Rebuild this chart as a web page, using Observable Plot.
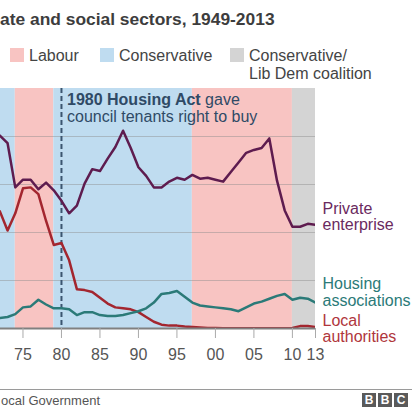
<!DOCTYPE html>
<html>
<head>
<meta charset="utf-8">
<script src="https://cdn.jsdelivr.net/npm/d3@7"></script>
<script src="https://cdn.jsdelivr.net/npm/@observablehq/plot@0.6"></script>
<style>
  html, body { margin: 0; padding: 0; background: #fff; }
  #wrap { position: relative; width: 412px; height: 412px; overflow: hidden; font-family: "Liberation Sans", Arial, sans-serif; }
  .abs { position: absolute; white-space: nowrap; }
  .sw { position: absolute; width: 14px; height: 14px; }
  .leg { position: absolute; font-size: 16px; line-height: 18px; color: #444; white-space: nowrap; }
  .bbc { position: absolute; top: 393px; width: 14px; height: 14px; background: #5a5a5a; color: #fff; font: bold 12px/14px "Liberation Sans", Arial, sans-serif; text-align: center; }
</style>
</head>
<body>
<div id="wrap"></div>
<script>
// ---- data ----
const years = [1972,1973,1974,1975,1976,1977,1978,1979,1980,1981,1982,1983,1984,1985,1986,1987,1988,1989,1990,1991,1992,1993,1994,1995,1996,1997,1998,1999,2000,2001,2002,2003,2004,2005,2006,2007,2008,2009,2010,2011,2012,2013];
const privateEnterprise = [201,193,147,155,155,145,152,144,133,120,128,151,166,164,177,189,206,188,168,159,147,147,153,157,155,160,156,157,155,153,163,173,183,186,188,198,154,123,106,106,109,108];
const housingAssociations = [11,12,15,22,23,30,25,21,21,20,14,17,17,14,13,13,14,16,18,21,27,36,37,39,33,27,24,23,22,21,20,18,22,26,28,31,34,36,30,32,31,27];
const localAuthorities = [122,102,120,146,147,140,112,87,89,71,41,40,38,32,26,22,21,20,17,12,7,4,3,3,2,1.5,1,0.5,0.5,0.3,0.3,0.3,0.3,0.3,0.3,0.3,0.3,0.3,0.5,2.5,2.5,1.5];
const periodParty = ["Conservative","Labour","Conservative","Labour","Conservative/Lib Dem coalition"];
const periodStart = [1970,1974,1979,1997,2010];
const periodEnd = [1974,1979,1997,2010,2013];
const partyNames = ["Labour","Conservative","Conservative/Lib Dem coalition"];
const partyColors = ["#f8c4c2","#bfdcf0","#d4d4d4"];
const xTicks = [1975,1980,1985,1990,1995,2000,2005,2010,2013];
const gridValues = [50,100,150,200];
const seriesNames = ["Private\nenterprise","Housing\nassociations","Local\nauthorities"];
const seriesColors = ["#5e1c4f","#2b7a78","#a3262f"];
const labelColors = ["#6a2a60","#2b7a78","#b0363c"];
const labelValues = [116.5, 38, 0];

// ---- build ----
const rows = (vals) => years.map((y, i) => ({year: y, value: vals[i]}));
const periods = periodParty.map((p, i) => ({party: p, start: periodStart[i], end: periodEnd[i]}));
const series = [privateEnterprise, housingAssociations, localAuthorities];

const marks = [
  Plot.rect(periods, {x1: "start", x2: "end", fill: "party", clip: true}),
  Plot.ruleY(gridValues, {stroke: "#8c8c8c", strokeOpacity: 0.45, strokeWidth: 1}),
  Plot.ruleX([1980], {stroke: "#3b556f", strokeWidth: 2, strokeDasharray: "5,3"}),
];
[2, 1, 0].forEach(i => {
  marks.push(Plot.line(rows(series[i]), {x: "year", y: "value", stroke: seriesColors[i], strokeWidth: 2.5, strokeLinejoin: "round", clip: true}));
});
marks.push(Plot.ruleY([0], {stroke: "#808080", strokeWidth: 2}));
marks.push(Plot.axisX(xTicks, {tickFormat: d => String(d % 100).padStart(2, "0"), tickSize: 10, tickPadding: 10, fontSize: 16, stroke: "#aaa", fill: "#555"}));
seriesNames.forEach((name, i) => {
  marks.push(Plot.text([name], {x: 2013, y: labelValues[i], text: d => d, dx: 7, textAnchor: "start", lineAnchor: "middle", lineHeight: 1.03, fontSize: 16, fill: labelColors[i]}));
});

const chart = Plot.plot({
  width: 412,
  height: 412,
  marginTop: 88,
  marginBottom: 84,
  marginLeft: 0,
  marginRight: 97,
  style: {fontFamily: "'Liberation Sans', Arial, sans-serif", background: "transparent", overflow: "visible"},
  x: {domain: [1972.08, 2013], axis: null},
  y: {domain: [0, 250], axis: null},
  color: {domain: partyNames, range: partyColors},
  marks
});
chart.style.position = "absolute";
chart.style.left = "0px";
chart.style.top = "0px";

const wrap = document.getElementById("wrap");
wrap.appendChild(chart);

function add(html, css, cls) {
  const d = document.createElement("div");
  d.className = cls || "abs";
  d.innerHTML = html;
  Object.assign(d.style, css);
  wrap.appendChild(d);
  return d;
}
// title (only the visible part of the cropped reference)
add("ate and social sectors, 1949-2013", {left: "0px", top: "9px", font: "bold 17.4px/20px 'Liberation Sans', Arial, sans-serif", color: "#3d3d3d"});
// legend
const legX = [10, 100, 230];
const legText = ["Labour", "Conservative", "Conservative/<br>Lib Dem coalition"];
partyNames.forEach((p, i) => {
  add("", {left: legX[i] + "px", top: "48px", background: partyColors[i]}, "sw");
  add(legText[i], {left: (legX[i] + 19) + "px", top: "47px"}, "leg");
});
// annotation
add("<b>1980 Housing Act</b> gave<br>council tenants right to buy", {left: "67px", top: "92px", font: "16px/16.5px 'Liberation Sans', Arial, sans-serif", color: "#2f4a66"});
// footer
add("", {left: "0px", top: "389px", width: "412px", height: "0px", borderTop: "1px solid #9a9a9a"});
add("ocal Government", {left: "1px", top: "393px", font: "13px/15px 'Liberation Sans', Arial, sans-serif", color: "#555"});
["B", "B", "C"].forEach((c, i) => {
  add(c, {left: (362 + i * 16) + "px"}, "bbc");
});
</script>
</body>
</html>
